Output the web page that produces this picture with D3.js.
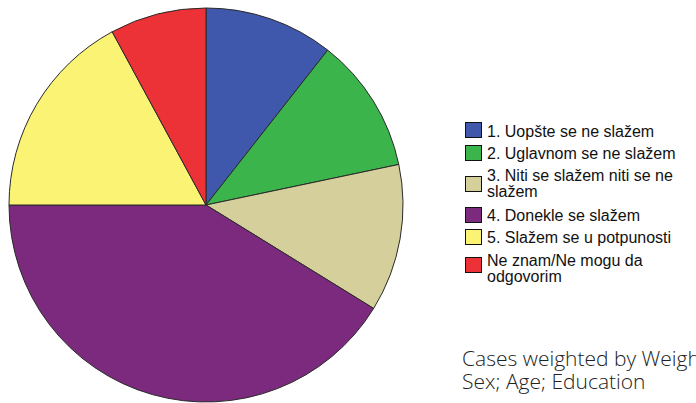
<!DOCTYPE html>
<html><head><meta charset="utf-8">
<script src="https://cdn.jsdelivr.net/npm/d3@7"></script>
<style>html,body{margin:0;padding:0;background:#fff;overflow:hidden}</style>
</head><body><svg id="c" width="696" height="403"></svg>
<script>
const categories = [
  ["1. Uopšte se ne slažem"],
  ["2. Uglavnom se ne slažem"],
  ["3. Niti se slažem niti se ne", "slažem"],
  ["4. Donekle se slažem"],
  ["5. Slažem se u potpunosti"],
  ["Ne znam/Ne mogu da", "odgovorim"]
];
const values = [10.6, 11.1, 12.1, 41.2, 17.1, 7.9];
const colors = ["#3f58ab", "#3bb54b", "#d5cf9b", "#7b2a7e", "#faf373", "#ec3237"];
const footnote = ["Cases weighted by Weight", "Sex; Age; Education"];

const svg = d3.select("#c");
const cx = 206, cy = 205, r = 197;
const pie = d3.pie().sort(null).value(d => d)(values);
const arc = d3.arc().innerRadius(0).outerRadius(r);
const g = svg.append("g").attr("transform", `translate(${cx},${cy})`);
g.selectAll("path").data(pie).join("path")
  .attr("d", arc)
  .attr("fill", (d, i) => colors[i])
  .attr("stroke", "#2a2a2a").attr("stroke-width", 1);

const textY = [[131], [153], [175, 191], [215], [237], [260, 276]];
const swY = [130, 153, 184, 215, 237, 265];
const lg = svg.append("g");
categories.forEach((lines, i) => {
  lg.append("rect").attr("x", 465.5).attr("y", swY[i] - 7.5).attr("width", 16).attr("height", 15)
    .attr("fill", colors[i]).attr("stroke", "#111").attr("stroke-width", 1);
  const t = lg.append("text").attr("x", 487).attr("font-family", "Liberation Sans, Arial, sans-serif")
    .attr("font-size", 16).attr("fill", "#111");
  lines.forEach((s, j) => {
    t.append("tspan").attr("x", 487).attr("y", textY[i][j]).attr("dy", "0.35em").text(s);
  });
});

const fg = svg.append("text").attr("font-family", "Open Sans, Noto Sans, sans-serif")
  .attr("font-size", 21).attr("font-weight", 300).attr("fill", "#222");
footnote.forEach((s, j) => fg.append("tspan").attr("x", 462).attr("y", 366 + j * 23).text(s));
</script></body></html>
